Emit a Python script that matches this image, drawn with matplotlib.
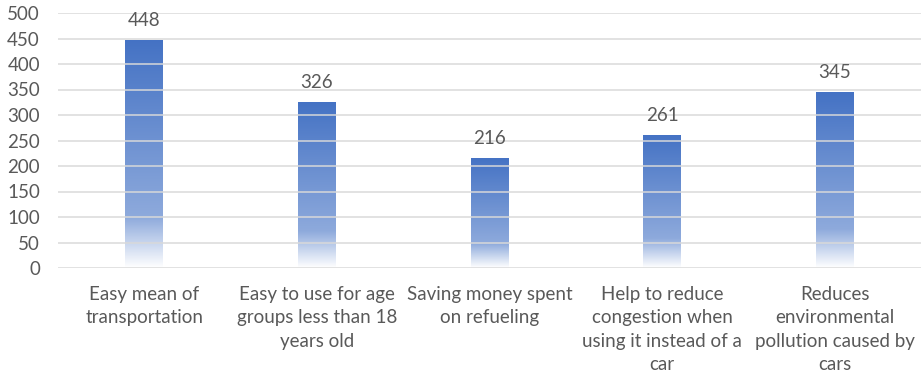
import matplotlib
matplotlib.use("Agg")
import matplotlib.pyplot as plt
from matplotlib.colors import LinearSegmentedColormap
import numpy as np

categories = [
    "Easy mean of\ntransportation",
    "Easy to use for age\ngroups less than 18\nyears old",
    "Saving money spent\non refueling",
    "Help to reduce\ncongestion when\nusing it instead of a\ncar",
    "Reduces\nenvironmental\npollution caused by\ncars",
]
values = [448, 326, 216, 261, 345]
yticks = [0, 50, 100, 150, 200, 250, 300, 350, 400, 450, 500]

plt.rcParams['font.family'] = ['Lato', 'DejaVu Sans']
text_color = "#595959"
grid_color = "#d9d9d9"

# white at the base, pale blue a fifth of the way up, full blue at the top
fade = LinearSegmentedColormap.from_list(
    "fade", [(0.0, "#ffffff"), (0.22, "#8eaadc"), (1.0, "#4472c4")])
grad = np.linspace(0, 1, 256).reshape(-1, 1)

fig = plt.figure(figsize=(9.21, 3.84), dpi=100)
ax = fig.add_axes([58 / 921, 116 / 384, 863 / 921, 255 / 384])

x = np.arange(len(values))
bars = ax.bar(x, values, width=0.22, facecolor="none", edgecolor="none")
for rect, v in zip(bars, values):
    x0 = rect.get_x()
    im = ax.imshow(grad, cmap=fade, origin="lower", aspect="auto",
                   extent=(x0, x0 + rect.get_width(), 0, v), zorder=1,
                   interpolation="bilinear")
    im.set_clip_path(rect)
    ax.annotate(str(v), (rect.get_x() + rect.get_width() / 2, v),
                xytext=(0, 14), textcoords="offset points",
                ha="center", va="center", fontsize=13.5, color=text_color)

ax.set_xlim(-0.5, len(values) - 0.5)
ax.set_ylim(0, 500)
ax.set_yticks(yticks)
ax.set_xticks(x)
ax.set_xticklabels(categories, linespacing=1.45)
ax.tick_params(axis="both", length=0, labelsize=13.5, colors=text_color)
ax.tick_params(axis="y", pad=13)
ax.tick_params(axis="x", pad=13)
ax.yaxis.grid(True, color=grid_color, linewidth=1.2, zorder=2, alpha=0.9)
ax.set_axisbelow(False)
for s in ax.spines.values():
    s.set_visible(False)

fig.savefig("out.png", dpi=100)
